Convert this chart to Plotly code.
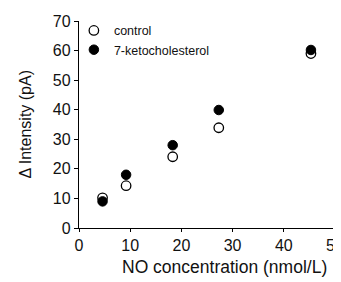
import plotly.graph_objects as go

no_conc = [4.6, 9.2, 18.3, 27.3, 45.3]
control = [10.2, 14.3, 24.1, 33.9, 59.0]
keto = [9.0, 18.0, 28.0, 39.9, 60.2]

x_ticks = [0, 10, 20, 30, 40, 50]
y_ticks = [0, 10, 20, 30, 40, 50, 60, 70]

font = "Liberation Sans, Arial, sans-serif"

fig = go.Figure()
fig.add_trace(go.Scatter(
    x=no_conc, y=control, mode="markers", name="control",
    marker=dict(symbol="circle", size=9.5, color="white",
                line=dict(color="black", width=1.3)),
))
fig.add_trace(go.Scatter(
    x=no_conc, y=keto, mode="markers", name="7-ketocholesterol",
    marker=dict(symbol="circle", size=9.5, color="black",
                line=dict(color="black", width=1)),
))

# page body has an 8px margin, so the figure is sized to fit the window
fig.update_layout(
    width=333, height=274,
    margin=dict(l=71, r=5.5, t=13, b=54),
    paper_bgcolor="white", plot_bgcolor="white",
    font=dict(family=font, color="#111", size=16),
    showlegend=True,
    legend=dict(x=-0.02, y=1.025, xanchor="left", yanchor="top",
                bgcolor="rgba(0,0,0,0)", font=dict(size=12.5, family=font),
                itemwidth=30, tracegroupgap=0),
    xaxis=dict(range=[0, 50], tickvals=x_ticks, ticks="outside", ticklen=3,
               showline=True, linecolor="black", linewidth=1.3,
               tickcolor="black", showgrid=False, zeroline=False,
               automargin=False, ticklabeloverflow="allow",
               tickfont=dict(size=16)),
    yaxis=dict(range=[0, 70], tickvals=y_ticks, ticks="outside", ticklen=4,
               showline=True, linecolor="black", linewidth=1.3,
               tickcolor="black", showgrid=False, zeroline=False,
               automargin=False,
               tickfont=dict(size=16)),
    annotations=[
        dict(text="NO concentration (nmol/L)", xref="paper", yref="paper",
             x=0.569, y=0, yshift=-39, xanchor="center", yanchor="middle",
             showarrow=False, font=dict(size=17.5)),
        dict(text="Δ Intensity (pA)", xref="paper", yref="paper",
             x=0, y=0.5, xshift=-54, xanchor="center", yanchor="middle",
             textangle=-90, showarrow=False, font=dict(size=16)),
    ],
)

fig.write_html("out.html")
